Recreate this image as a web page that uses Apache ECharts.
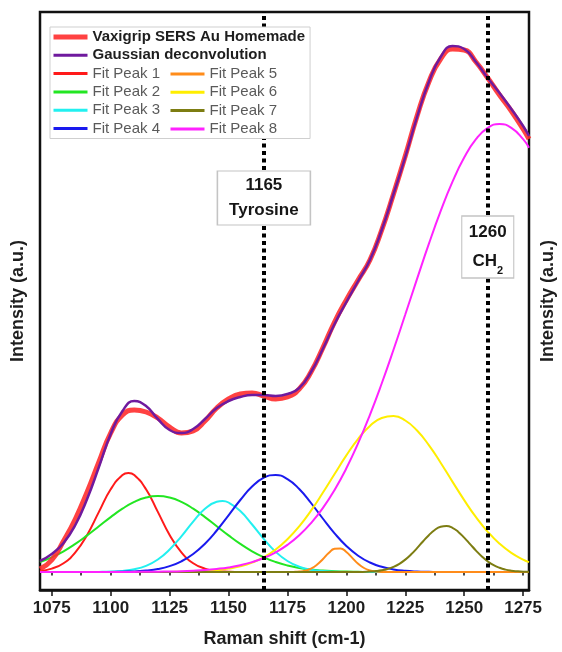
<!DOCTYPE html>
<html>
<head>
<meta charset="utf-8">
<script src="https://cdn.jsdelivr.net/npm/echarts@6/dist/echarts.min.js"></script>
<style>html,body{margin:0;padding:0;background:#fff}#c{width:562px;height:652px}</style>
</head>
<body>
<div id="c"></div>
<script>
// ---- data ----
const xMain = [1070,1075,1080,1085,1090,1095,1100,1105,1110,1115,1120,1125,1130,1135,1140,1145,1150,1155,1160,1165,1170,1175,1180,1185,1190,1195,1200,1205,1210,1215,1220,1225,1230,1235,1240,1245,1250,1255,1260,1265,1270,1275,1277.5];
const expData = [3,12,31,53,80,110,139,157,162,160,154,145,139,141,151,164,173,178,179,176,173,175,183,200,224,250,272,292,312,342,378,416,456,490,513,523,522,510,494,477,461,443,433];
const fitSum = [11,18,29,47,73,105,138,161,171,166,153,142,139,143,153,164,171,175,177,177,176,178,184,200,223,248,270,291,312,342,378,415,455,490,515,526,523,510,494,479,463,446,436];
const xPeak1 = [1070,1075,1080,1085,1090,1095,1100,1105,1107.5,1110,1115,1120,1125,1130,1135,1140,1145,1150,1155,1160,1277.5];
const peak1 = [1.1,3.4,8.8,19.6,37.1,60.1,82.7,97.0,99.0,97.0,82.7,60.1,37.1,19.6,8.8,3.4,1.1,0.3,0,0,0];
const peak2 = [10.0,14.7,20.7,28.1,36.6,45.7,54.9,63.3,70.1,74.5,76.0,74.5,70.1,63.3,54.9,45.7,36.6,28.1,20.7,14.7,10.0,6.5,4.1,2.4,1.4,0.8,0.4,0.2,0,0,0,0,0,0,0,0,0,0,0,0,0,0,0];
const xPeak3 = [1070,1090,1095,1100,1105,1110,1115,1120,1125,1130,1135,1140,1145,1147.5,1150,1155,1160,1165,1170,1175,1180,1185,1190,1195,1200,1205,1277.5];
const peak3 = [0,0,0.1,0.4,1.1,2.7,6.2,12.5,22.5,35.7,50.4,63.2,70.3,71.0,69.5,61.0,47.5,32.9,20.2,11.0,5.3,2.3,0.9,0.3,0,0,0];
const peak4 = [0,0,0,0,0,0,0,0.3,0.6,1.5,3.0,5.9,10.7,18.0,28.3,41.5,56.6,72.0,85.4,94.3,97.0,92.9,83.0,69.0,53.5,38.7,26.0,16.3,9.5,5.2,2.6,1.2,0.5,0.2,0,0,0,0,0,0,0,0,0];
const peak6 = [0,0,0,0,0,0,0,0,0,0,0,0.1,0.3,0.5,1.0,1.9,3.4,5.7,9.4,14.8,22.5,32.8,45.7,61.4,79.2,98.0,116.6,133.2,146.1,154.0,155.9,151.5,141.5,126.9,109.3,90.4,71.9,54.8,40.2,28.3,19.1,12.4,9.9];
const peak8 = [0,0,0,0,0,0,0,0,0.1,0.2,0.3,0.5,0.8,1.3,2.0,3.1,4.6,6.8,9.9,14.0,19.7,27.1,36.7,48.9,63.9,82.1,103.7,128.8,157.2,188.5,222.2,257.5,293.1,328.1,360.8,390.1,414.4,432.8,444.1,448.0,444.1,432.8,424.3];
const xPeak5 = [1070,1175,1177.5,1180,1182.5,1185,1187.5,1190,1192.5,1195,1197.5,1200,1202.5,1205,1207.5,1210,1212.5,1215,1220,1277.5];
const peak5 = [0,0,0.1,0.4,1.3,3.4,7.2,12.8,18.9,23.2,23.6,20.0,14.1,8.2,4.0,1.6,0.5,0.1,0,0];
const xPeak7 = [1070,1205,1210,1212.5,1215,1217.5,1220,1222.5,1225,1227.5,1230,1232.5,1235,1237.5,1240,1242.5,1245,1247.5,1250,1252.5,1255,1257.5,1260,1262.5,1265,1267.5,1270,1272.5,1275,1277.5];
const peak7 = [0,0,0.4,0.9,1.7,3.0,5.1,8.2,12.4,17.7,23.9,30.5,36.8,42.0,45.2,46.0,44.2,40.1,34.4,27.9,21.4,15.5,10.6,6.8,4.2,2.4,1.3,0.7,0.3,0.15];
const majorTicks = [1075,1100,1125,1150,1175,1200,1225,1250,1275];
const minorTicks = [1075,1087.5,1100,1112.5,1125,1137.5,1150,1162.5,1175,1187.5,1200,1212.5,1225,1237.5,1250,1262.5,1275];
const markerLines = [1165,1260];
const annotations = [
  {x:1165, y:374, text:'{b|1165}\n{b|Tyrosine}'},
  {x:1260, y:325, text:'{b|1260}\n{b|CH}{s|2}'}
];
const peakNames = ['Fit Peak 1','Fit Peak 2','Fit Peak 3','Fit Peak 4','Fit Peak 5','Fit Peak 6','Fit Peak 7','Fit Peak 8'];
const peakColors = ['#ff1a1a','#22e622','#22f0f0','#1a1aee','#ff8c1a','#ffee00','#7d7d12','#ff22ff'];

const FONT = 'Arial, "Liberation Sans", Helvetica, sans-serif';
const XMIN = 1070, XMAX = 1277.5, YMIN = -18, YMAX = 560;

function pairs(xs, ys){ return xs.map((x,i)=>[x, ys[i]]); }
const peakData = [
  pairs(xPeak1,peak1), pairs(xMain,peak2), pairs(xPeak3,peak3), pairs(xMain,peak4),
  pairs(xPeak5,peak5), pairs(xMain,peak6), pairs(xPeak7,peak7), pairs(xMain,peak8)
];

const series = [];
peakNames.forEach((n,i)=>{
  series.push({name:n, type:'line', data:peakData[i], showSymbol:false, symbol:'none',
    smooth:0.5, color:peakColors[i],
    lineStyle:{width:2, color:peakColors[i]}, silent:true, z:2});
});
series.push({name:'Vaxigrip SERS Au Homemade', type:'line', data:pairs(xMain,expData), showSymbol:false, symbol:'none',
  smooth:0.5, color:'#ff3333', lineStyle:{width:5, color:'rgba(255,45,45,0.9)'}, silent:true, z:2});
series.push({name:'Gaussian deconvolution', type:'line', data:pairs(xMain,fitSum), showSymbol:false, symbol:'none',
  smooth:0.5, color:'#6f1a9e', lineStyle:{width:2.5, color:'#6f1a9e'}, silent:true, z:2});
series.push({name:'_lines', type:'line', data:[], silent:true, z:3,
  markLine:{symbol:['none','none'], silent:true, label:{show:false},
    lineStyle:{color:'#000', width:4, type:[4,3.5], cap:'butt'},
    emphasis:{disabled:true},
    data: markerLines.map(v=>({xAxis:v}))}});
series.push({name:'_boxes', type:'line', data:[], silent:true, z:4,
  markPoint:{silent:true, data: annotations.map((a,i)=>({
    coord:[a.x,a.y], symbol:'rect', symbolSize: i===0 ? [93,54] : [52,62],
    itemStyle:{color:'#fff', borderColor:'#c4c4c4', borderWidth:1.2},
    label:{show:true, position:'inside', formatter:a.text,
      rich:{
        b:{fontFamily:FONT, fontSize:17, fontWeight:'bold', color:'#161616', lineHeight: i===0?25:29},
        s:{fontFamily:FONT, fontSize:11, fontWeight:'bold', color:'#161616', lineHeight:14, verticalAlign:'bottom'}
      }}
  }))}});

const legendCommon = {
  orient:'vertical', itemWidth:34, itemHeight:12, itemGap:2.3, selectedMode:false, z:20,
  itemStyle:{opacity:0}, lineStyle:{width:3},
  textStyle:{fontFamily:FONT, fontSize:15, color:'#5a5a5a', lineHeight:16}
};

const option = {
  backgroundColor:'#fff',
  animation:false,
  grid:{left:40, right:33, top:12, bottom:62, outerBoundsMode:'none', containLabel:false,
        show:true, borderColor:'#111', borderWidth:2.5, backgroundColor:'transparent'},
  legend:[
    Object.assign({}, legendCommon, {
      left:50, top:27, padding:[2,5,2,1], backgroundColor:'#fff', borderColor:'#cfcfcf', borderWidth:1,
      data:[
        {name:'Vaxigrip SERS Au Homemade', lineStyle:{width:5}, textStyle:{fontWeight:'bold', color:'#1e1e1e'}},
        {name:'Gaussian deconvolution', lineStyle:{width:3}, textStyle:{fontWeight:'bold', color:'#1e1e1e'}},
        'Fit Peak 1','Fit Peak 2','Fit Peak 3','Fit Peak 4']
    }),
    Object.assign({}, legendCommon, {
      left:168, top:66, padding:[0,0,0,1],
      data:['Fit Peak 5','Fit Peak 6','Fit Peak 7','Fit Peak 8']
    })
  ],
  xAxis:[
    {type:'value', min:XMIN, max:XMAX, position:'bottom',
     axisLine:{show:true, onZero:false, lineStyle:{color:'#111', width:2.5}},
     axisTick:{show:true, customValues:majorTicks, length:6, lineStyle:{color:'#111', width:1.5}},
     axisLabel:{show:true, customValues:majorTicks, margin:10, formatter:v=>String(v), fontFamily:FONT, fontSize:17, fontWeight:'bold', color:'#1e1e1e'},
     splitLine:{show:false},
     name:'Raman shift (cm-1)', nameLocation:'middle', nameGap:40,
     nameTextStyle:{fontFamily:FONT, fontSize:18, fontWeight:'bold', color:'#1e1e1e'}},
    {type:'value', min:XMIN, max:XMAX, position:'bottom',
     axisLine:{show:false}, axisLabel:{show:false}, splitLine:{show:false},
     axisTick:{show:true, customValues:minorTicks, length:3.5, lineStyle:{color:'#111', width:1.5}}}
  ],
  yAxis:[
    {type:'value', min:YMIN, max:YMAX, position:'left', axisLine:{show:false}, axisTick:{show:false},
     axisLabel:{show:false}, splitLine:{show:false},
     name:'Intensity (a.u.)', nameLocation:'middle', nameGap:13,
     nameTextStyle:{fontFamily:FONT, fontSize:18, fontWeight:'bold', color:'#1e1e1e'}},
    {type:'value', min:YMIN, max:YMAX, position:'right', axisLine:{show:false}, axisTick:{show:false},
     axisLabel:{show:false}, splitLine:{show:false},
     name:'Intensity (a.u.)', nameLocation:'middle', nameGap:10, nameRotate:90,
     nameTextStyle:{fontFamily:FONT, fontSize:18, fontWeight:'bold', color:'#1e1e1e'}}
  ],
  series: series
};
const chart = echarts.init(document.getElementById('c'), null, {renderer:'canvas'});
chart.setOption(option);
</script>
</body>
</html>
